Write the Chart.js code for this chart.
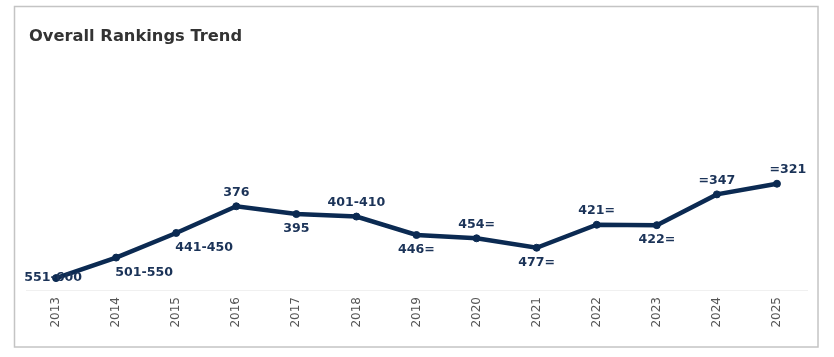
<!DOCTYPE html>
<html>
<head>
<meta charset="utf-8">
<script src="https://cdn.jsdelivr.net/npm/chart.js@4"></script>
<style>
html,body{margin:0;padding:0;background:#fff;}
#wrap{position:relative;width:834px;height:357px;}
canvas{display:block;}
</style>
</head>
<body>
<div id="wrap"><canvas id="c" width="834" height="357"></canvas></div>
<script>
const years = ['2013','2014','2015','2016','2017','2018','2019','2020','2021','2022','2023','2024','2025'];
const rankValues = [551, 501, 441, 376, 395, 401, 446, 454, 477, 421, 422, 347, 321];
const rankLabels = ['551-600','501-550','441-450','376','395','401-410','446=','454=','477=','421=','422=','=347','=321'];
const labelPlacement = ['center','belowRight','belowRight','above','below','above','below','above','below','above','below','above','aboveRight'];

const navy = '#0b2a52';

const decor = {
  id: 'decor',
  beforeDraw(chart) {
    const ctx = chart.ctx;
    ctx.save();
    ctx.fillStyle = '#fff';
    ctx.fillRect(0, 0, chart.width, chart.height);
    ctx.strokeStyle = '#c4c4c4';
    ctx.lineWidth = 1.5;
    ctx.strokeRect(14.5, 6.5, 803.5, 340.5);
    ctx.fillStyle = '#333333';
    ctx.font = 'bold 16.3px "DejaVu Sans", Verdana, sans-serif';
    ctx.textBaseline = 'alphabetic';
    ctx.textAlign = 'left';
    ctx.fillText('Overall Rankings Trend', 29, 41);
    ctx.restore();
  },
  afterDatasetsDraw(chart) {
    const ctx = chart.ctx;
    const meta = chart.getDatasetMeta(0);
    ctx.save();
    ctx.font = 'bold 12.6px "DejaVu Sans", Verdana, sans-serif';
    ctx.fillStyle = '#1b3358';
    ctx.textAlign = 'center';
    ctx.textBaseline = 'middle';
    meta.data.forEach((pt, i) => {
      const p = labelPlacement[i];
      let dx = 0, dy = 0;
      if (p === 'above') dy = -14;
      else if (p === 'below') dy = 15;
      else if (p === 'belowRight') { dx = 28; dy = 15; }
      else if (p === 'aboveRight') { dx = 11; dy = -14; }
      else if (p === 'center') { dx = -3; dy = 0; }
      ctx.fillText(rankLabels[i], pt.x + dx, pt.y + dy);
    });
    ctx.restore();
  }
};

new Chart(document.getElementById('c'), {
  type: 'line',
  data: {
    labels: years,
    datasets: [{
      data: rankValues,
      borderColor: navy,
      backgroundColor: navy,
      borderWidth: 4.5,
      pointRadius: 3.5,
      pointBorderWidth: 1,
      pointBackgroundColor: navy,
      pointBorderColor: navy,
      tension: 0,
      fill: false
    }]
  },
  options: {
    responsive: false,
    animation: false,
    events: [],
    layout: { padding: { left: 26, right: 27, top: 52, bottom: 0 } },
    plugins: { legend: { display: false }, title: { display: false }, tooltip: { enabled: false } },
    scales: {
      x: {
        offset: true,
        grid: { display: false, drawTicks: false },
        border: { display: true, color: '#f0f0f0', width: 1 },
        ticks: {
          minRotation: 90, maxRotation: 90, padding: 7,
          color: '#555555',
          font: { family: '"DejaVu Sans", Verdana, sans-serif', size: 12 }
        },
        afterFit(s) { s.height = 67; }
      },
      y: {
        display: false,
        reverse: true,
        min: 0,
        max: 580
      }
    }
  },
  plugins: [decor]
});
</script>
</body>
</html>
